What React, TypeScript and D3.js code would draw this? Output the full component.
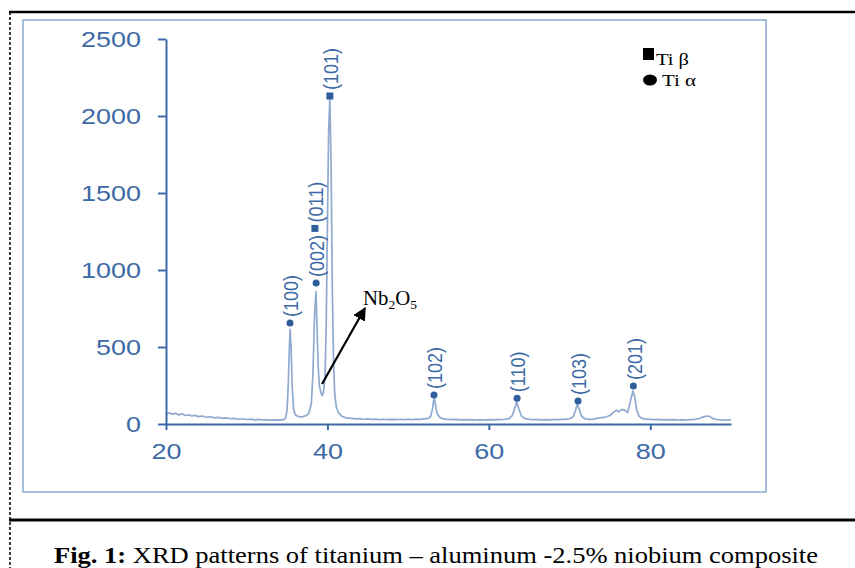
import { useEffect, useRef } from 'react';
import * as d3 from 'd3';

// 2-theta (deg) vs intensity (counts)
const pattern: [number, number][] = [
  [20, 62], [20.4, 72], [20.8, 64], [21.2, 70], [21.6, 58], [22, 66], [22.4, 55], [22.8, 60],
  [23.2, 52], [23.6, 56], [24, 48], [24.5, 52], [25, 44], [25.5, 47], [26, 40], [26.5, 43],
  [27, 37], [27.5, 40], [28, 34], [28.5, 37], [29, 31], [29.5, 34], [30, 29], [30.5, 32],
  [31, 27], [31.5, 30], [32, 26], [32.5, 28], [33, 25], [33.5, 27], [34, 25], [34.5, 28],
  [34.8, 36], [35.0, 90], [35.15, 260], [35.3, 520], [35.38, 615], [35.5, 500], [35.65, 230],
  [35.8, 100], [36.0, 62], [36.3, 50], [36.7, 46], [37.0, 48], [37.4, 55], [37.7, 70],
  [38.0, 130], [38.2, 320], [38.4, 700], [38.58, 860], [38.7, 650], [38.85, 380], [39.0, 250],
  [39.2, 200], [39.35, 185], [39.5, 200], [39.7, 300], [39.85, 650], [40.0, 1300], [40.15, 1900],
  [40.3, 2120], [40.45, 1700], [40.6, 900], [40.75, 420], [40.9, 200], [41.1, 110], [41.4, 70],
  [41.8, 50], [42.3, 40], [43, 36], [43.5, 33], [44, 35], [44.5, 31], [45, 33], [45.5, 30],
  [46, 32], [46.5, 29], [47, 31], [47.5, 28], [48, 30], [48.5, 28], [49, 31], [49.5, 29],
  [50, 31], [50.5, 29], [51, 32], [51.5, 30], [52, 33], [52.5, 36], [52.8, 50], [53.0, 95],
  [53.15, 150], [53.25, 165], [53.4, 120], [53.6, 65], [54.0, 40], [54.5, 32], [55, 30],
  [55.5, 28], [56, 30], [56.5, 27], [57, 29], [57.5, 27], [58, 28], [58.5, 26], [59, 28],
  [59.5, 26], [60, 28], [60.5, 27], [61, 29], [61.5, 28], [62, 31], [62.5, 35], [62.9, 55],
  [63.2, 100], [63.45, 145], [63.7, 100], [64.0, 55], [64.4, 36], [65, 30], [65.5, 28],
  [66, 30], [66.5, 27], [67, 29], [67.5, 27], [68, 29], [68.5, 28], [69, 30], [69.5, 30],
  [70, 34], [70.4, 45], [70.7, 80], [70.95, 130], [71.2, 95], [71.5, 50], [71.9, 34],
  [72.5, 30], [73, 32], [73.5, 38], [74, 42], [74.5, 45], [75, 55], [75.4, 75], [75.8, 90],
  [76.1, 80], [76.5, 95], [76.8, 90], [77.2, 75], [77.55, 150], [77.85, 215], [78.05, 180],
  [78.3, 95], [78.6, 50], [79, 36], [79.5, 32], [80, 30], [80.5, 28], [81, 30], [81.5, 27],
  [82, 29], [82.5, 27], [83, 28], [83.5, 26], [84, 28], [84.5, 26], [85, 28], [85.5, 30],
  [86, 34], [86.5, 45], [87, 52], [87.4, 48], [87.8, 34], [88.3, 28], [89, 26], [90, 27],
];

// indexed reflections: hkl, 2-theta, marker height, phase
const reflections = [
  { hkl: '(100)', angle: 35.36, counts: 656, phase: 'alpha' },
  { hkl: '(002)', angle: 38.6, counts: 915, phase: 'alpha' },
  { hkl: '(011)', angle: 38.45, counts: 1270, phase: 'beta' },
  { hkl: '(101)', angle: 40.3, counts: 2130, phase: 'beta' },
  { hkl: '(102)', angle: 53.2, counts: 188, phase: 'alpha' },
  { hkl: '(110)', angle: 63.5, counts: 168, phase: 'alpha' },
  { hkl: '(103)', angle: 71.05, counts: 150, phase: 'alpha' },
  { hkl: '(201)', angle: 77.9, counts: 247, phase: 'alpha' },
];

const yTicks = [0, 500, 1000, 1500, 2000, 2500];
const xTicks = [20, 40, 60, 80];

// Nb2O5 shoulder arrow (from, to) in data units
const nbArrow = { from: [39.33, 260], to: [44.66, 753] };

const W = 855, H = 568;
const BLUE = '#3d6aa6';
const LINE = '#8fa9cf';
const SANS = "'Liberation Sans', Arial, sans-serif";
const SERIF = "'Liberation Serif', 'Times New Roman', Times, serif";

const App = () => {
  const ref = useRef<SVGSVGElement>(null);

  useEffect(() => {
    const svg = d3.select(ref.current);
    svg.selectAll('*').remove();

    const x = d3.scaleLinear().domain([20, 90]).range([166, 731]);
    const y = d3.scaleLinear().domain([0, 2500]).range([424, 39]);

    const defs = svg.append('defs');
    defs.append('marker')
      .attr('id', 'arrowhead')
      .attr('viewBox', '0 0 10 10')
      .attr('refX', 9).attr('refY', 5)
      .attr('markerWidth', 6).attr('markerHeight', 6)
      .attr('markerUnits', 'strokeWidth')
      .attr('orient', 'auto')
      .append('path').attr('d', 'M0,0L10,5L0,10z').attr('fill', '#000');

    // page rules
    svg.append('line').attr('x1', 9).attr('x2', W).attr('y1', 12).attr('y2', 12)
      .attr('stroke', '#000').attr('stroke-width', 2.5);
    svg.append('line').attr('x1', 10).attr('x2', 10).attr('y1', 12).attr('y2', H)
      .attr('stroke', '#000').attr('stroke-width', 1.5).attr('stroke-dasharray', '3,2');
    svg.append('line').attr('x1', 9).attr('x2', W).attr('y1', 520).attr('y2', 520)
      .attr('stroke', '#000').attr('stroke-width', 3);

    // chart frame
    svg.append('rect').attr('x', 23).attr('y', 20).attr('width', 743).attr('height', 472)
      .attr('fill', 'none').attr('stroke', '#8aa8d2').attr('stroke-width', 1.5);

    // data line
    svg.append('path')
      .datum(pattern)
      .attr('fill', 'none')
      .attr('stroke', LINE)
      .attr('stroke-width', 1.7)
      .attr('stroke-linejoin', 'round')
      .attr('d', d3.line<[number, number]>().x(d => x(d[0])).y(d => y(d[1])));

    // axes
    const styleAxis = (g: any) => {
      g.select('.domain').attr('stroke', BLUE).attr('stroke-width', 2);
      g.selectAll('.tick line').attr('stroke', BLUE).attr('stroke-width', 2);
      g.selectAll('.tick text')
        .attr('fill', BLUE)
        .attr('font-family', SANS)
        .attr('font-size', 22)
        .attr('textLength', (d: number) => String(d).length * 15)
        .attr('lengthAdjust', 'spacingAndGlyphs');
    };

    svg.append('g')
      .attr('transform', 'translate(166,0)')
      .call(d3.axisLeft(y).tickValues(yTicks).tickFormat(d3.format('d')).tickSize(8).tickSizeOuter(0).tickPadding(17))
      .call(styleAxis);

    svg.append('g')
      .attr('transform', 'translate(0,424)')
      .call(d3.axisBottom(x).tickValues(xTicks).tickFormat(d3.format('d')).tickSize(6).tickSizeOuter(0).tickPadding(13))
      .call(styleAxis);

    // reflection markers
    const refl = svg.append('g');
    refl.selectAll('circle')
      .data(reflections.filter(d => d.phase === 'alpha'))
      .join('circle')
      .attr('cx', d => x(d.angle)).attr('cy', d => y(d.counts))
      .attr('r', 3.5).attr('fill', '#2f5e9c');
    refl.selectAll('rect')
      .data(reflections.filter(d => d.phase === 'beta'))
      .join('rect')
      .attr('x', d => x(d.angle) - 3.5).attr('y', d => y(d.counts) - 3.5)
      .attr('width', 7).attr('height', 7).attr('fill', '#2f5e9c');
    refl.selectAll('text')
      .data(reflections)
      .join('text')
      .attr('transform', d => `translate(${x(d.angle) + 1},${y(d.counts) - 6}) rotate(-90) scale(1,1.15)`)
      .attr('dy', '0.35em')
      .attr('fill', BLUE)
      .attr('font-family', SANS)
      .attr('font-size', 18)
      .text(d => d.hkl);

    // Nb2O5 annotation
    svg.append('line')
      .attr('x1', x(nbArrow.from[0])).attr('y1', y(nbArrow.from[1]))
      .attr('x2', x(nbArrow.to[0])).attr('y2', y(nbArrow.to[1]))
      .attr('stroke', '#000').attr('stroke-width', 2.2)
      .attr('marker-end', 'url(#arrowhead)');
    const nb = svg.append('text')
      .attr('x', x(nbArrow.to[0]) - 2).attr('y', y(nbArrow.to[1]) - 3)
      .attr('font-family', SERIF)
      .attr('font-size', 20).attr('fill', '#000')
      .attr('textLength', 54).attr('lengthAdjust', 'spacingAndGlyphs');
    nb.append('tspan').text('Nb');
    nb.append('tspan').attr('font-size', 13).attr('dy', 4).text('2');
    nb.append('tspan').attr('dy', -4).text('O');
    nb.append('tspan').attr('font-size', 13).attr('dy', 4).text('5');

    // legend
    const lg = svg.append('g')
      .attr('font-family', SERIF)
      .attr('fill', '#000');
    lg.append('rect').attr('x', 643).attr('y', 48).attr('width', 11).attr('height', 12);
    lg.append('text').attr('x', 656).attr('y', 65).attr('font-size', 16)
      .attr('textLength', 33).attr('lengthAdjust', 'spacingAndGlyphs').text('Ti β');
    lg.append('ellipse').attr('cx', 650).attr('cy', 80).attr('rx', 7).attr('ry', 5.5);
    lg.append('text').attr('x', 662).attr('y', 86).attr('font-size', 16)
      .attr('textLength', 34).attr('lengthAdjust', 'spacingAndGlyphs').text('Ti α');

    // caption
    const cap = svg.append('text')
      .attr('x', 54).attr('y', 563)
      .attr('font-family', SERIF)
      .attr('font-size', 24).attr('fill', '#000')
      .attr('textLength', 764).attr('lengthAdjust', 'spacingAndGlyphs');
    cap.append('tspan').attr('font-weight', 'bold').text('Fig. 1:');
    cap.append('tspan').text(' XRD patterns of titanium – aluminum -2.5% niobium composite');
  }, []);

  return (
    <svg ref={ref} width={W} height={H}
      style={{ position: 'absolute', left: 0, top: 0, background: '#fff' }} />
  );
};

export default App;
